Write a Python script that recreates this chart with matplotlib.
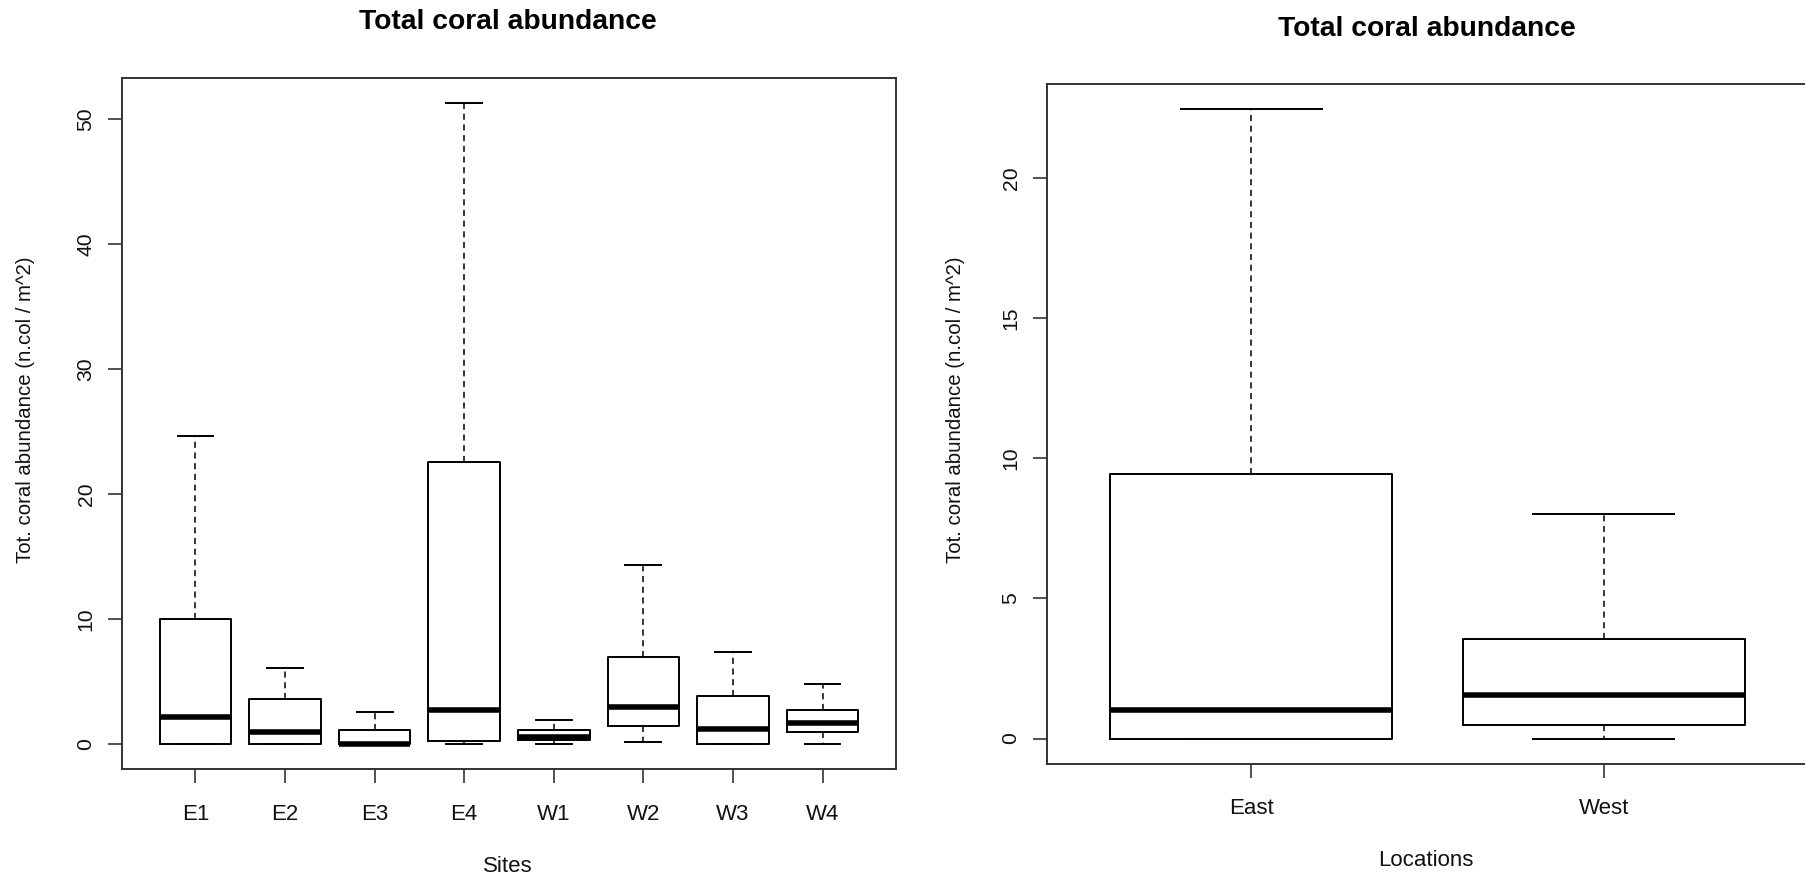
import matplotlib
matplotlib.use("Agg")
import matplotlib.pyplot as plt

plt.rcParams['font.family'] = ['Liberation Sans', 'DejaVu Sans']

# ---- Data ----
sites = ["E1", "E2", "E3", "E4", "W1", "W2", "W3", "W4"]
site_whislo = [0.0, 0.0, 0.0, 0.0, 0.0, 0.1, 0.0, 0.0]
site_q1 = [0.0, 0.0, 0.0, 0.21, 0.32, 1.39, 0.0, 0.93]
site_med = [2.1, 0.93, 0.0, 2.67, 0.5, 2.91, 1.17, 1.63]
site_q3 = [10.0, 3.6, 1.07, 22.56, 1.07, 6.97, 3.85, 2.69]
site_whishi = [24.65, 6.06, 2.53, 51.26, 1.87, 14.29, 7.32, 4.75]

locations = ["East", "West"]
loc_whislo = [0.0, 0.0]
loc_q1 = [0.0, 0.5]
loc_med = [1.03, 1.56]
loc_q3 = [9.43, 3.57]
loc_whishi = [22.48, 8.0]

title = "Total coral abundance"
ylabel = "Tot. coral abundance (n.col / m^2)"

SPINE = "#333333"
XFS = 16       # horizontal tick labels / x-axis label
YFS = 15.2     # rotated tick labels
YLFS = 14.7    # rotated y-axis label
TFS = 20.3     # title

W, H = 1805, 882


def make_stats(labels, lo, q1, med, q3, hi):
    return [dict(label=l, whislo=a, q1=b, med=c, q3=d, whishi=e, fliers=[])
            for l, a, b, c, d, e in zip(labels, lo, q1, med, q3, hi)]


def r_boxplot(fig, ax, stats, yticks, xlabel, title_xy, xlab_xy, ylab_xy):
    n = len(stats)
    ax.bxp(stats, widths=0.8, capwidths=0.4, showfliers=False,
           patch_artist=False,
           boxprops=dict(color="black", linewidth=1.4),
           medianprops=dict(color="black", linewidth=4.0, solid_capstyle="butt"),
           whiskerprops=dict(color="black", linewidth=1.1, linestyle=(0, (4, 3))),
           capprops=dict(color="black", linewidth=1.4))
    lo = min(s["whislo"] for s in stats)
    hi = max(s["whishi"] for s in stats)
    r = hi - lo
    ax.set_ylim(lo - 0.04 * r, hi + 0.04 * r)
    ax.set_xlim(0.5 - 0.04 * n, n + 0.5 + 0.04 * n)
    ax.set_xticks(range(1, n + 1))
    ax.set_xticklabels([s["label"] for s in stats], fontsize=XFS)
    ax.set_yticks(yticks)
    ax.set_yticklabels([str(t) for t in yticks], rotation=90, va="center",
                       fontsize=YFS)
    for sp in ax.spines.values():
        sp.set_color(SPINE)
        sp.set_linewidth(1.4)
    ax.tick_params(axis="both", direction="out", length=10, width=1.2,
                   color=SPINE, labelcolor="#111111")
    ax.tick_params(axis="x", pad=15)
    ax.tick_params(axis="y", pad=9)
    fig.text(title_xy[0] / W, 1 - title_xy[1] / H, title, fontsize=TFS,
             fontweight="bold", ha="center", va="center", color="black")
    fig.text(xlab_xy[0] / W, 1 - xlab_xy[1] / H, xlabel, fontsize=XFS,
             ha="center", va="center", color="#111111")
    fig.text(ylab_xy[0] / W, 1 - ylab_xy[1] / H, ylabel, fontsize=YLFS,
             ha="center", va="center", rotation=90, color="#111111")


fig = plt.figure(figsize=(W / 100, H / 100), dpi=100)

ax1 = fig.add_axes([122 / W, 1 - 769.3 / H, (896 - 122) / W, (769.3 - 77.7) / H])
r_boxplot(fig, ax1,
          make_stats(sites, site_whislo, site_q1, site_med, site_q3, site_whishi),
          [0, 10, 20, 30, 40, 50], "Sites",
          (508, 22), (508, 867), (26, 410))

ax2 = fig.add_axes([1047 / W, 1 - 763.7 / H, (1808 - 1047) / W, (763.7 - 83.7) / H])
r_boxplot(fig, ax2,
          make_stats(locations, loc_whislo, loc_q1, loc_med, loc_q3, loc_whishi),
          [0, 5, 10, 15, 20], "Locations",
          (1427, 29), (1426, 861), (955, 410))

fig.savefig("out.png", dpi=100)
